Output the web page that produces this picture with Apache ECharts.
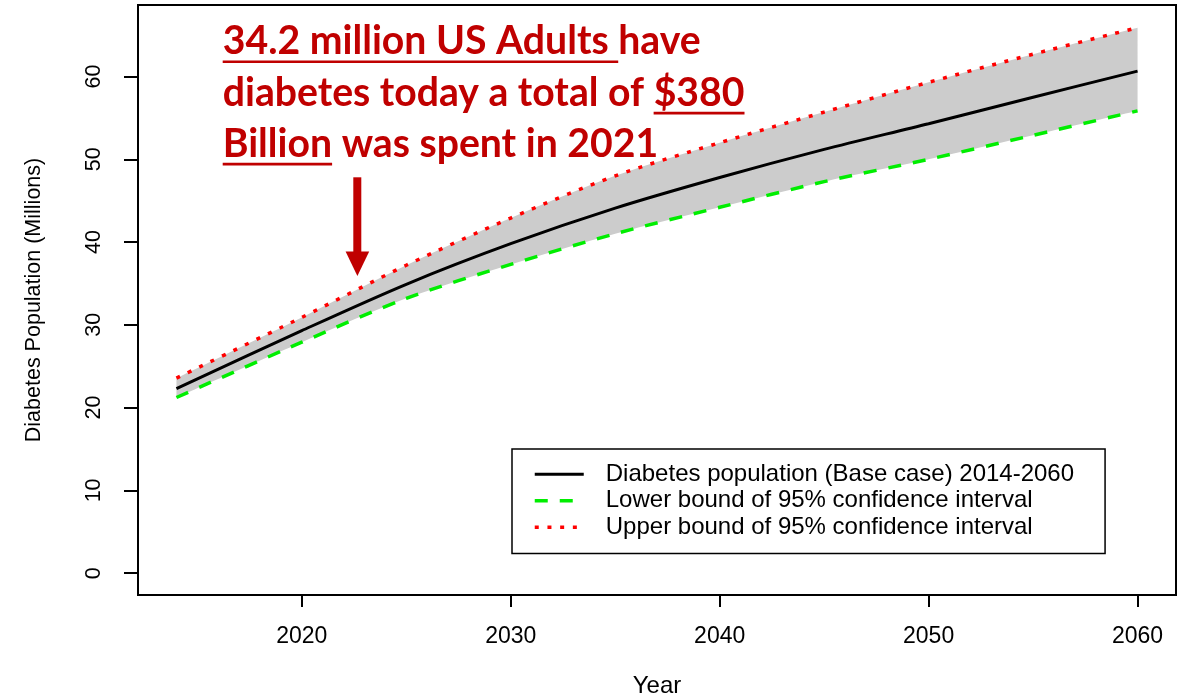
<!DOCTYPE html>
<html><head><meta charset="utf-8">
<script src="https://cdn.jsdelivr.net/npm/echarts@6/dist/echarts.min.js"></script>
<style>html,body{margin:0;padding:0;background:#fff}#c{width:1186px;height:698px}</style>
</head><body><div id="c"></div>
<script>
// ---- data ----
const years = [2014, 2020, 2025, 2030, 2035, 2040, 2045, 2050, 2055, 2060];
const baseCase = [22.3, 29.3, 34.9, 39.8, 44.1, 47.8, 51.2, 54.3, 57.5, 60.65];
const upperBound = [23.56, 30.9, 37.2, 42.9, 48.0, 52.0, 55.7, 59.3, 62.7, 65.9];
const lowerBound = [21.22, 27.9, 33.2, 37.3, 41.0, 44.2, 47.3, 50.0, 52.9, 55.85];
const xTicks = [2020, 2030, 2040, 2050, 2060];
const yTicks = [0, 10, 20, 30, 40, 50, 60];
const seriesNames = [
  'Diabetes population (Base case) 2014-2060',
  'Lower bound of 95% confidence interval',
  'Upper bound of 95% confidence interval'
];
const xTitle = 'Year';
const yTitle = 'Diabetes Population (Millions)';
const annotationLines = [
  [{t: '34.2 million US Adults ', u: true}, {t: 'have', u: false}],
  [{t: 'diabetes today a total of ', u: false}, {t: '$380', u: true}],
  [{t: 'Billion', u: true}, {t: ' was spent in 2021', u: false}]
];

// ---- helpers ----
const pts = arr => years.map((y, i) => [y, arr[i]]);
// value-first rows for the stacked band (stacking happens on the first numeric dimension)
const bandBase = years.map((y, i) => [lowerBound[i], y]);
const bandSpan = years.map((y, i) => [+(upperBound[i] - lowerBound[i]).toFixed(4), y]);
const AX_FONT = 'Liberation Sans';
const RED = '#C00000';

// annotation layout (measured text)
const ctx = document.createElement('canvas').getContext('2d');
const ANN_FAMILY = 'Lato';
function measure(t, F) { ctx.font = 'bold ' + F + 'px ' + ANN_FAMILY; ctx.textBaseline = 'alphabetic'; return ctx.measureText(t).width; }
const line2Target = 522;
const annF = 40 * line2Target / measure(annotationLines[1].map(s => s.t).join(''), 40);
ctx.font = 'bold ' + annF + 'px ' + ANN_FAMILY;
ctx.textBaseline = 'alphabetic';
const aAlpha = ctx.measureText('H').actualBoundingBoxAscent;
ctx.textBaseline = 'middle';
const aMid = ctx.measureText('H').actualBoundingBoxAscent;
const baseOff = aAlpha - aMid;
const annX = 222.7;
const annBaselines = [54.3, 105.7, 156.7];
const graphics = [];
annotationLines.forEach((segs, li) => {
  let x = annX;
  const by = annBaselines[li];
  segs.forEach(s => {
    const wdt = measure(s.t, annF);
    graphics.push({type: 'text', x: x, y: by - baseOff, z: 20,
      style: {text: s.t, fill: RED, fontSize: annF, fontFamily: ANN_FAMILY, fontWeight: 'bold',
              textAlign: 'left', verticalAlign: 'middle', textVerticalAlign: 'middle'}});
    if (s.u) {
      graphics.push({type: 'line', z: 20, shape: {x1: x, y1: by + 7.4, x2: x + wdt, y2: by + 7.4},
        style: {stroke: RED, lineWidth: 2.6}});
    }
    x += wdt;
  });
});
graphics.push({type: 'rect', z: 20, shape: {x: 353.3, y: 177.3, width: 8, height: 75}, style: {fill: RED}});
graphics.push({type: 'polygon', z: 20, shape: {points: [[345.6, 251.5], [369.2, 251.5], [357.4, 276]]}, style: {fill: RED}});

const SMOOTH = 0.3;
const chart = echarts.init(document.getElementById('c'), null, {renderer: 'canvas'});
const option = {
  animation: false,
  backgroundColor: '#ffffff',
  grid: {left: 138, right: 10, top: 5, bottom: 103, containLabel: false, outerBoundsMode: 'none',
         show: true, z: 10, borderColor: '#000', borderWidth: 2, backgroundColor: 'transparent'},
  xAxis: {
    type: 'value', min: 2012.16, max: 2061.84,
    name: xTitle, nameLocation: 'middle', nameGap: 79,
    nameTextStyle: {fontFamily: AX_FONT, fontSize: 24, color: '#000'},
    axisLine: {show: false, onZero: false}, splitLine: {show: false},
    axisTick: {show: true, customValues: xTicks, length: 12, lineStyle: {color: '#000', width: 2}},
    axisLabel: {customValues: xTicks, margin: 30, fontFamily: AX_FONT, fontSize: 23, color: '#000',
                formatter: v => String(v)}
  },
  yAxis: {
    type: 'value', min: -2.64, max: 68.64,
    name: yTitle, nameLocation: 'middle', nameGap: 93,
    nameTextStyle: {fontFamily: AX_FONT, fontSize: 21.5, color: '#000'},
    axisLine: {show: false, onZero: false}, splitLine: {show: false},
    axisTick: {show: true, customValues: yTicks, length: 14, lineStyle: {color: '#000', width: 2}},
    axisLabel: {customValues: yTicks, rotate: 90, margin: 33, fontFamily: AX_FONT, fontSize: 21.5, color: '#000',
                formatter: v => String(v)}
  },
  legend: {
    orient: 'vertical', left: 512, top: 449, z: 30,
    data: seriesNames,
    itemWidth: 49, itemHeight: 14, itemGap: 0,
    padding: [12, 31, 13, 21],
    borderColor: '#000', borderWidth: 1.5, backgroundColor: '#fff',
    lineStyle: {width: 'inherit'},
    itemStyle: {opacity: 0, borderWidth: 0},
    textStyle: {fontFamily: AX_FONT, fontSize: 24, color: '#000', lineHeight: 26.5, padding: [0, 0, 0, 17]},
    selectedMode: false
  },
  graphic: graphics,
  series: [
    // grey confidence band: stacked (lower bound + span) with the fill on the span only
    {name: 'band-base', type: 'line', data: bandBase, encode: {x: 1, y: 0}, stack: 'ci', smooth: SMOOTH,
     symbol: 'none', lineStyle: {width: 0, opacity: 0}, silent: true, z: 1},
    {name: 'band-span', type: 'line', data: bandSpan, encode: {x: 1, y: 0}, stack: 'ci', smooth: SMOOTH,
     symbol: 'none', lineStyle: {width: 0, opacity: 0}, areaStyle: {color: '#cccccc', opacity: 1}, silent: true, z: 1},
    {name: seriesNames[2], type: 'line', data: pts(upperBound), smooth: SMOOTH, symbol: 'none',
     lineStyle: {color: '#ff0000', width: 3.5, type: [4, 8.7]}, itemStyle: {color: '#ff0000'}, z: 3},
    {name: seriesNames[1], type: 'line', data: pts(lowerBound), smooth: SMOOTH, symbol: 'none',
     lineStyle: {color: '#00ee00', width: 3.5, type: [13, 12]}, itemStyle: {color: '#00ee00'}, z: 3},
    {name: seriesNames[0], type: 'line', data: pts(baseCase), smooth: SMOOTH, symbol: 'none',
     lineStyle: {color: '#000', width: 3}, itemStyle: {color: '#000'}, z: 4}
  ]
};
chart.setOption(option);
</script>
</body></html>
